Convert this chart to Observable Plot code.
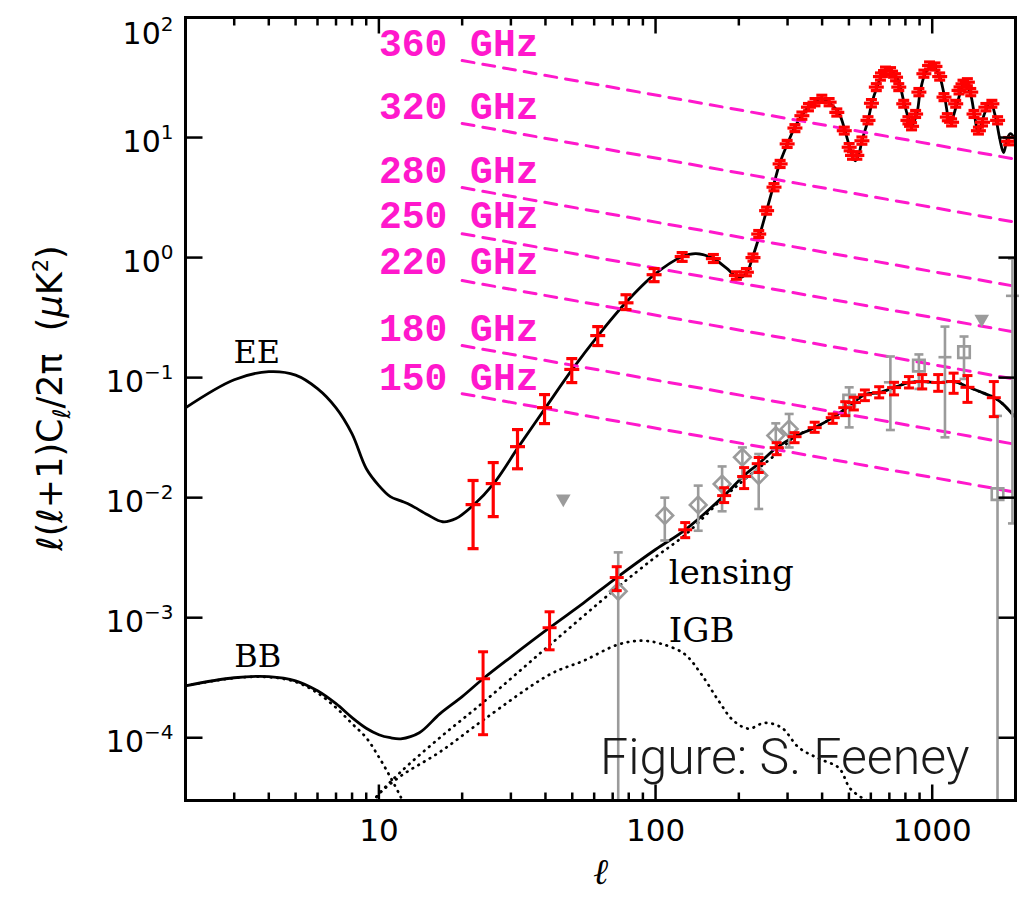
<!DOCTYPE html>
<html><head><meta charset="utf-8">
<script src="https://cdn.jsdelivr.net/npm/d3@7"></script>
<script src="https://cdn.jsdelivr.net/npm/@observablehq/plot@0.6"></script>
<style>
body{margin:0;background:#fff;}
#chart svg{display:block;}
</style></head><body><div id="chart"></div>
<script>
// ---------------- data ----------------
const xDomain = [2, 2000];
const yDomain = [3e-5, 100];
const xMajorTicks = [10, 100, 1000];
const xMinorTicks = [3,4,5,6,7,8,9,20,30,40,50,60,70,80,90,200,300,400,500,600,700,800,900];
const yTickExps = [2, 1, 0, -1, -2, -3, -4];

// EE theory curve [ell, value]
const eeTheory = [[2,0.056],[3,0.096],[4,0.112],[5,0.105],[6,0.081],[7,0.056],[8,0.034],[9,0.0175],[10,0.0126],[11,0.0102],[12,0.0094],[13,0.0087],[15,0.0072],[17,0.0063],[19,0.0067],[22,0.0087],[26,0.0131],[32,0.0266],[40,0.056],[50,0.117],[62,0.224],[78,0.42],[99,0.72],[125,1.02],[140,1.08],[162,0.98],[180,0.82],[200,0.68],[213,0.74],[224,1.0],[238,1.55],[252,2.46],[267,4.0],[281,6.07],[300,8.9],[318,12.1],[338,15.3],[361,18.5],[380,20.3],[399,21.1],[427,19.2],[459,16.2],[484,11.4],[504,8.2],[527,6.4],[545,7.5],[557,9.4],[586,13.9],[606,19.6],[631,26.1],[658,32.9],[698,36.1],[746,31.6],[791,19.6],[825,13.9],[846,12.6],[882,16.2],[904,23.7],[944,34.2],[1000,39.8],[1060,32.9],[1106,22.4],[1162,13.3],[1233,19.6],[1306,28.7],[1373,23.3],[1419,15.8],[1469,11.0],[1545,15.8],[1625,19.6],[1695,14.7],[1751,10],[1811,7.5],[1873,10],[1919,10.8],[2000,9.5]];

// BB total theory curve
const bbTheory = [[2,2.71e-4],[3,3.16e-4],[4,3.23e-4],[5,2.98e-4],[6,2.46e-4],[7,1.92e-4],[8,1.47e-4],[9,1.2e-4],[10,1.06e-4],[11,1.0e-4],[12,9.8e-5],[14,1.1e-4],[16.6,1.58e-4],[20,2.2e-4],[23.8,3.1e-4],[30,4.7e-4],[41.4,8.25e-4],[55,1.33e-3],[72.4,2.16e-3],[100,3.7e-3],[128,5.4e-3],[177,0.0104],[209,0.0153],[236,0.0192],[274,0.0261],[318,0.0322],[376,0.0383],[437,0.0464],[492,0.0562],[571,0.0722],[643,0.075],[728,0.0826],[824,0.091],[920,0.0927],[1051,0.091],[1202,0.0927],[1341,0.084],[1518,0.075],[1678,0.068],[1795,0.0607],[2000,0.0464]];

// BB primordial (tensor) dotted
const bbTensor = [[2,2.71e-4],[3,3.14e-4],[4,3.2e-4],[5,2.92e-4],[6,2.36e-4],[7,1.78e-4],[8,1.31e-4],[9,1.0e-4],[10,6.9e-5],[11,4.7e-5],[12,3.2e-5],[12.5,2.6e-5]];

// lensing BB dotted
const bbLensing = [[9.5,2.9e-5],[10,3.4e-5],[12,5.2e-5],[16.6,1.0e-4],[24,2.0e-4],[41,5.8e-4],[72,1.75e-3],[100,3.2e-3],[128,4.9e-3],[177,0.0101],[213,0.0146],[276,0.0236],[318,0.0322],[376,0.0383],[437,0.0464],[492,0.0562],[571,0.0722],[643,0.075],[728,0.0826],[824,0.091],[920,0.0927],[1051,0.091],[1202,0.0927],[1341,0.084],[1518,0.075],[1678,0.068],[1795,0.0607],[2000,0.0464]];

// IGB dotted
const igb = [[9.5,2.9e-5],[10,3.4e-5],[12,4.8e-5],[16.6,7.6e-5],[24,1.42e-4],[41.8,3.4e-4],[55,4.38e-4],[73,5.96e-4],[88.6,6.43e-4],[104.6,6.07e-4],[127,5.0e-4],[146,3.41e-4],[169,2.03e-4],[191,1.39e-4],[217,1.19e-4],[248,1.33e-4],[286,1.21e-4],[329,8.3e-5],[389,6.7e-5],[460,5.6e-5],[504,3.8e-5],[557,3.16e-5],[600,2.9e-5]];

// EE measurements [ell, value, lo, hi]
const eePoints = [[21.9,0.00875,0.00376,0.0139],[25.9,0.0131,0.00695,0.0196],[31.7,0.0266,0.0174,0.0369],[39.7,0.0562,0.0414,0.0722],[49.8,0.117,0.0909,0.144],[61.8,0.224,0.185,0.266],[78.2,0.42,0.369,0.49],[98.8,0.72,0.63,0.81],[124.8,1.02,0.93,1.1],[161.8,0.98,0.91,1.06],[196,0.71,0.66,0.76],[213,0.755,0.705,0.81],[225,1.0,0.935,1.07],[236,1.57,1.47,1.68],[252,2.46,2.3,2.63],[268,3.86,3.6,4.13],[282,6.03,5.63,6.45],[299,8.85,8.27,9.47],[319,12.0,11.2,12.8],[338,15.2,14.2,16.3],[357,17.9,16.7,19.2],[377,19.7,18.4,21.1],[399,21.0,19.6,22.5],[424,19.7,18.4,21.1],[452,16.2,15.1,17.3],[481,11.4,10.7,12.2],[501,8.3,7.75,8.9],[515,7.1,6.6,7.6],[534,7.1,6.6,7.6],[557,9.4,8.8,10.1],[586,13.9,13.0,14.9],[603,19.3,18.0,20.7],[628,26.3,24.6,28.1],[650,32.2,30.1,34.5],[678,36.1,33.7,38.6],[707,35.7,33.4,38.2],[737,31.8,29.7,34.0],[757,26.3,24.6,28.1],[789,19.1,17.9,20.4],[817,13.9,13.0,14.9],[842,12.4,11.6,13.3],[871,15.7,14.7,16.8],[895,23.9,22.3,25.6],[933,34.0,31.8,36.4],[978,39.8,37.2,42.6],[1023,39.1,36.5,41.8],[1064,32.2,30.1,34.5],[1103,21.7,20.3,23.2],[1134,14.8,13.8,15.8],[1175,13.4,12.5,14.3],[1216,19.1,17.9,20.4],[1250,24.7,23.1,26.4],[1292,28.0,26.2,30.0],[1340,28.9,27.0,30.9],[1378,23.9,22.3,25.6],[1416,15.7,14.7,16.8],[1469,11.4,10.7,12.2],[1520,13.4,12.5,14.3],[1563,17.9,16.7,19.2],[1643,19.1,17.9,20.4],[1723,13.9,13.0,14.9],[1889,9.3,8.7,10.0]];

// BB measurements [ell, value, lo, hi]
const bbPoints = [[23.8,3.1e-4,1.06e-4,5.2e-4],[41.4,8.25e-4,5.4e-4,1.12e-3],[72.4,2.16e-3,1.68e-3,2.66e-3],[128,5.4e-3,4.64e-3,6.2e-3],[177,0.0104,0.0091,0.0121],[209,0.015,0.0119,0.0178],[236,0.0192,0.0162,0.0216],[274,0.0261,0.0228,0.0287],[318,0.0322,0.0287,0.0348],[376,0.0383,0.035,0.0425],[437,0.0464,0.0416,0.0498],[485,0.0562,0.0482,0.063],[521,0.062,0.0538,0.0686],[571,0.072,0.0643,0.0789],[643,0.075,0.0678,0.084],[728,0.0826,0.0718,0.0914],[824,0.091,0.082,0.102],[920,0.0927,0.0805,0.106],[1051,0.091,0.0769,0.106],[1195,0.0927,0.074,0.109],[1341,0.083,0.0622,0.104],[1670,0.068,0.0473,0.0927]];

// other experiments (grey) [ell, value, lo, hi]
const greyDiamonds = [[73.3,1.66e-3,1e-6,3.5e-3],[108,7.1e-3,4.4e-3,0.01],[142.6,8.7e-3,5.3e-3,0.0126],[174,0.013,7.7e-3,0.0182],[206,0.0217,0.0145,0.0262],[236,0.0153,8.05e-3,0.0231],[272,0.0329,0.0255,0.0416],[304,0.0374,0.0262,0.0498]];
const greySquares = [[501,0.0643,0.0385,0.083],[895,0.126,0.0805,0.156],[1303,0.163,0.0975,0.22],[1722,0.0107,1e-6,0.048]];
const greyCrosses = [[706,0.0914,0.0366,0.150],[1112,0.148,0.0318,0.266],[1950,0.48,6.1e-3,0.98]];
const greyUpperLimits = [[46.4,9.8e-3],[1510,0.308]];

// foreground (dust) lines: amplitude at ell=20 and ell=2000
const dustNames = ["360 GHz","320 GHz","280 GHz","250 GHz","220 GHz","180 GHz","150 GHz"];
const dustEll = [20, 2000];
const dustStart = [43.8, 13.1, 3.83, 1.58, 0.643, 0.185, 0.0735];
const dustEnd = [6.6, 1.97, 0.576, 0.239, 0.0968, 0.0278, 0.0111];
const dustLabelEll = 10;
const dustLabelV = [60.1, 17.9, 5.31, 2.22, 0.917, 0.2535, 0.099];

// text annotations
const centredNotes = [
  {text: "EE", l: 3.62, v: 0.161},
  {text: "BB", l: 3.65, v: 4.73e-4}
];
const leftNotes = [
  {text: "lensing", l: 111.7, v: 2.33e-3},
  {text: "IGB", l: 111.7, v: 7.8e-4}
];
const credit = {text: "Figure: S. Feeney", l: 63, v: 6.8e-5};
const yLabelText = "ℓ(ℓ+1)Cℓ/2π (μK²)";
const xLabelText = "ℓ";

// ---------------- build ----------------
const MAG = "#ff18cc", RED = "#ff0000", GREY = "#9b9b9b";
const toObj = a => a.map(([l, v]) => ({l, v}));
const toErr = a => a.map(([l, v, lo, hi]) => ({l, v, lo, hi}));
const dustData = dustNames.flatMap((f, i) => [{f, l: dustEll[0], v: dustStart[i]}, {f, l: dustEll[1], v: dustEnd[i]}]);
const dustLabels = dustNames.map((f, i) => ({f, l: dustLabelEll, v: dustLabelV[i]}));

const hSeg = w => ({draw(c) { c.moveTo(-w / 2, 0); c.lineTo(w / 2, 0); }});
const vSeg = L => ({draw(c) { c.moveTo(0, 0); c.lineTo(0, L); }});
const hTick = L => ({draw(c) { c.moveTo(0, 0); c.lineTo(L, 0); }});

function errMarks(rows, color, centerSym, capW, sw, r) {
  const d = toErr(rows);
  const marks = [
    Plot.ruleX(d, {x: "l", y1: "lo", y2: "hi", stroke: color, strokeWidth: sw, clip: true}),
    Plot.dot(d.filter(p => p.lo >= yDomain[0]), {x: "l", y: "lo", symbol: hSeg(capW), stroke: color, strokeWidth: sw, fill: "none"}),
    Plot.dot(d.filter(p => p.hi <= yDomain[1]), {x: "l", y: "hi", symbol: hSeg(capW), stroke: color, strokeWidth: sw, fill: "none"})
  ];
  if (centerSym) marks.push(Plot.dot(d, {x: "l", y: "v", symbol: centerSym, stroke: color, strokeWidth: sw, fill: "none", r: r || 6}));
  return marks;
}

const dotted = {stroke: "black", strokeWidth: 2.7, strokeDasharray: "0.6,6", strokeLinecap: "round", curve: "catmull-rom", clip: true};
const solid = {stroke: "black", strokeWidth: 2.8, curve: "catmull-rom", clip: true};

const plot = Plot.plot({
  width: 1023, height: 899,
  marginLeft: 185, marginRight: 8, marginTop: 17, marginBottom: 99,
  style: {background: "white"},
  x: {type: "log", domain: xDomain, axis: null},
  y: {type: "log", domain: yDomain, axis: null},
  marks: [
    Plot.line(toObj(bbTensor), {x: "l", y: "v", ...dotted}),
    Plot.line(toObj(bbLensing), {x: "l", y: "v", ...dotted}),
    Plot.line(toObj(igb), {x: "l", y: "v", ...dotted}),
    Plot.line(toObj(eeTheory), {x: "l", y: "v", ...solid}),
    Plot.line(toObj(bbTheory), {x: "l", y: "v", ...solid}),
    Plot.line(dustData, {x: "l", y: "v", z: "f", stroke: MAG, strokeWidth: 3, strokeDasharray: "12,9", clip: true}),
    Plot.text(dustLabels, {x: "l", y: "v", text: "f", textAnchor: "start", fill: MAG, fontSize: 38, fontWeight: "bold", fontFamily: "Liberation Mono, monospace"}),
    ...errMarks(greyDiamonds, GREY, "diamond2", 9, 2.6, 7.5),
    ...errMarks(greySquares, GREY, "square", 9, 2.6, 6.5),
    ...errMarks(greyCrosses, GREY, hSeg(13), 9, 2.6),
    Plot.dot(toObj(greyUpperLimits), {x: "l", y: "v", symbol: "triangle2", rotate: 180, fill: GREY, r: 7}),
    ...errMarks(bbPoints, RED, hSeg(14), 10, 3),
    ...errMarks(eePoints, RED, hSeg(15), 11, 3.2),
    Plot.text(centredNotes, {x: "l", y: "v", text: "text", textAnchor: "middle", fontSize: 32, fontFamily: "DejaVu Serif, serif", fill: "black"}),
    Plot.text(leftNotes, {x: "l", y: "v", text: "text", textAnchor: "start", fontSize: 34, fontFamily: "DejaVu Serif, serif", fill: "black"}),
    Plot.text([credit], {x: "l", y: "v", text: "text", textAnchor: "start", fontSize: 50, fontWeight: 300, fontFamily: "Roboto, Lato, sans-serif", fill: "#1a1a1a"}),
    // axis ticks (inward)
    Plot.dot(xMajorTicks, {x: d => d, y: () => yDomain[0], symbol: vSeg(-16), stroke: "black", strokeWidth: 2.5, fill: "none"}),
    Plot.dot(xMinorTicks, {x: d => d, y: () => yDomain[0], symbol: vSeg(-8), stroke: "black", strokeWidth: 2.5, fill: "none"}),
    Plot.dot(xMajorTicks, {x: d => d, y: () => yDomain[1], symbol: vSeg(16), stroke: "black", strokeWidth: 2.5, fill: "none"}),
    Plot.dot(xMinorTicks, {x: d => d, y: () => yDomain[1], symbol: vSeg(8), stroke: "black", strokeWidth: 2.5, fill: "none"}),
    Plot.dot(yTickExps, {x: () => xDomain[0], y: e => 10 ** e, symbol: hTick(17), stroke: "black", strokeWidth: 2.5, fill: "none"}),
    Plot.dot(yTickExps, {x: () => xDomain[1], y: e => 10 ** e, symbol: hTick(-17), stroke: "black", strokeWidth: 2.5, fill: "none"}),
    Plot.frame({stroke: "black", strokeWidth: 3}),
    // axis labels
    Plot.text(xMajorTicks, {x: d => d, frameAnchor: "bottom", dy: 40, text: d => String(d), fontSize: 31, fontFamily: "DejaVu Sans, sans-serif", fill: "black"}),
    Plot.text(yTickExps, {y: e => 10 ** e, frameAnchor: "left", textAnchor: "end", dx: -12, dy: 5, text: e => "10^" + e, fontSize: 30, fontFamily: "DejaVu Sans, sans-serif", fill: "black"}),
    Plot.text([yLabelText], {frameAnchor: "left", textAnchor: "middle", rotate: -90, dx: -135, dy: -11, text: d => d, fontSize: 35, fontFamily: "DejaVu Sans, sans-serif", fill: "black"}),
    Plot.text([xLabelText], {frameAnchor: "bottom", dy: 83, text: d => d, fontSize: 36, fontStyle: "italic", fontFamily: "DejaVu Serif, serif", fill: "black"})
  ]
});

// rich text: superscripts / subscripts
d3.select(plot).selectAll("text").each(function () {
  const t = this.textContent;
  const sel = d3.select(this);
  const m = /^10\^(-?\d+)$/.exec(t);
  if (m) {
    const e = +m[1];
    sel.text("10");
    sel.append("tspan").attr("font-size", 20).attr("dy", -13).text(e < 0 ? "\u2212" + (-e) : String(e));
    if (e === 2) sel.attr("dy", 12);
  } else if (t === yLabelText) {
    sel.text("").style("white-space", "pre").attr("text-anchor", "middle");
    const parts = [
      ["ℓ", "italic", 0, null], ["(", null, 0, null], ["ℓ", "italic", 0, null], ["+1)C", null, 0, null],
      ["ℓ", "italic", 8, 24], ["/2π  (", null, -8, null], ["μ", "italic", 0, null], ["K", null, 0, null],
      ["2", null, -14, 21], [")", null, 14, null]
    ];
    for (const [s, st, dy, fs] of parts) {
      const ts = sel.append("tspan").text(s);
      if (st) ts.attr("font-style", st);
      if (dy) ts.attr("dy", dy);
      if (fs) ts.attr("font-size", fs);
    }
  }
});

document.getElementById("chart").appendChild(plot);
</script>
</body></html>
